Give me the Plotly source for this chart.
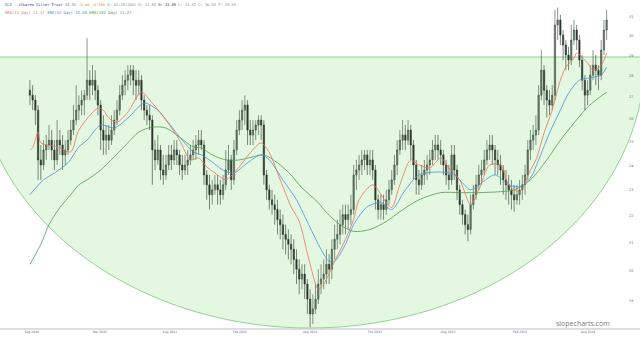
import numpy as np
import pandas as pd
import plotly.graph_objects as go

# ---------------- data (weekly candles) ----------------
opens = [27.32,27.09,26.86,26.40,24.23,24.02,24.65,24.86,25.07,24.65,
24.23,25.07,24.86,24.44,24.65,25.07,25.51,25.95,26.40,26.63,
26.86,27.09,27.80,27.56,27.80,27.32,26.63,25.51,25.07,25.29,
25.07,25.51,25.95,26.40,27.09,27.56,27.80,28.04,28.28,27.80,
27.56,27.80,26.86,26.40,26.17,25.95,24.65,24.23,24.65,23.81,
23.61,24.02,24.44,24.23,24.65,24.44,24.02,23.81,24.02,24.23,
24.44,24.65,24.86,25.07,24.86,23.61,23.21,22.82,23.01,23.21,
23.01,22.82,23.21,23.81,24.23,23.41,24.65,25.51,25.95,26.40,
26.63,25.51,25.29,25.51,25.73,25.95,25.73,23.61,23.01,22.62,
22.43,22.24,21.86,21.67,21.31,21.13,20.95,20.77,20.41,20.07,
19.73,19.90,19.56,19.06,18.58,18.74,19.06,19.56,19.73,19.90,
20.24,20.07,20.77,21.13,21.31,21.67,22.05,21.86,22.05,22.24,
23.61,23.81,24.02,24.23,24.44,24.02,24.23,23.81,22.62,22.24,
22.43,22.24,22.62,23.01,23.41,24.02,24.65,25.07,25.29,25.07,
25.51,24.86,24.02,23.41,23.21,23.61,23.81,24.02,24.23,24.65,
24.86,24.65,24.44,24.02,23.61,23.41,24.44,23.81,23.01,22.43,
22.05,21.67,21.49,22.43,22.82,23.21,23.61,23.81,24.23,24.65,
24.86,24.65,24.23,24.02,23.81,23.41,23.21,23.01,22.82,22.62,
22.82,23.01,23.21,23.61,24.65,25.07,25.29,25.51,27.09,28.28,
27.32,26.86,26.63,27.09,30.58,30.84,30.05,29.54,29.03,28.78,
29.79,30.31,29.79,28.78,27.80,27.09,27.32,28.04,28.53,28.28,
28.04,29.28,30.31]

highs = [27.80,27.56,27.09,26.63,24.86,25.07,25.29,25.73,25.51,25.07,
25.95,25.51,25.29,25.07,25.51,25.95,26.63,27.56,27.09,27.32,
27.32,29.89,28.28,28.53,28.28,27.56,26.86,26.17,25.73,25.73,
26.17,26.40,26.86,27.56,28.04,28.28,28.53,28.53,28.53,28.28,
28.28,28.04,27.09,26.63,26.63,26.17,25.07,25.29,24.86,24.44,
24.44,24.86,24.86,25.07,25.07,24.65,24.44,24.44,24.65,24.86,
25.07,25.29,25.51,25.51,25.07,23.81,23.61,23.41,23.61,23.61,
23.41,23.61,24.65,24.86,24.44,25.07,25.95,26.40,26.86,27.09,
26.86,25.95,25.95,25.95,26.17,26.17,25.95,23.81,23.21,23.01,
22.82,22.62,22.24,22.05,21.67,21.49,21.31,21.13,20.77,20.41,
20.24,20.24,19.73,19.39,19.22,19.56,20.07,20.24,20.41,20.77,
20.59,21.13,21.67,21.86,22.24,22.43,22.43,22.43,22.82,24.02,
24.23,24.44,24.65,24.65,24.65,24.65,24.65,24.02,22.82,22.82,
22.82,23.01,23.41,23.81,24.44,25.07,25.51,25.95,25.73,25.95,
25.73,25.07,24.23,23.81,24.02,24.23,24.44,24.65,25.07,25.29,
25.29,25.07,24.65,24.23,24.02,24.86,24.86,24.02,23.21,22.62,
22.24,22.05,22.82,23.21,23.61,24.02,24.23,24.65,25.07,25.29,
25.29,24.86,24.65,24.44,24.02,23.81,23.61,23.41,23.21,23.21,
23.41,23.61,24.02,25.07,25.51,25.73,26.17,27.56,29.28,28.53,
27.56,27.32,27.56,31.38,31.50,31.11,30.31,29.79,29.44,30.58,
30.84,30.58,30.05,29.03,28.04,27.80,28.53,29.28,29.03,28.53,
29.79,30.84,31.38]

lows = [26.63,26.40,25.73,23.41,23.41,23.81,24.23,24.65,24.23,23.81,
24.02,24.44,23.81,24.02,24.44,24.86,25.29,25.73,25.95,26.17,
26.17,26.86,26.86,27.09,26.86,26.17,24.65,24.44,24.44,24.65,
24.86,25.29,25.73,26.17,26.86,27.09,27.32,27.56,27.09,26.86,
27.09,26.40,25.95,25.73,25.51,23.21,23.81,24.02,23.41,23.21,
23.41,23.81,23.81,24.02,24.02,23.61,23.41,23.61,23.61,24.02,
24.23,24.23,24.44,24.65,23.21,22.62,22.24,22.43,22.82,22.43,
22.43,22.62,23.01,23.61,23.01,23.21,24.44,25.29,25.51,25.73,
24.86,24.86,24.86,25.07,25.29,25.07,23.21,22.62,22.24,22.05,
21.67,21.31,21.13,20.77,20.59,20.41,20.24,19.90,19.56,19.22,
19.39,19.06,18.58,18.16,18.26,18.58,18.90,19.22,19.39,19.56,
19.56,19.73,20.41,20.77,20.95,21.31,21.31,21.49,21.67,22.05,
23.01,23.41,23.61,23.81,23.61,23.61,23.41,22.24,21.86,21.86,
21.86,22.05,22.43,22.82,23.21,23.61,24.44,24.65,24.65,24.86,
24.23,23.41,22.82,22.82,23.01,23.21,23.41,23.61,24.02,24.23,
24.23,24.02,23.61,23.21,23.01,23.21,23.41,22.62,22.05,21.67,
21.31,21.06,21.31,22.24,22.62,23.01,23.21,23.61,24.02,24.23,
24.02,23.61,23.61,23.21,22.82,22.62,22.43,22.24,22.16,22.43,
22.43,22.62,22.82,23.41,24.23,24.65,24.86,25.29,26.86,26.63,
26.07,26.17,26.40,26.86,29.79,29.54,28.78,28.28,28.28,28.53,
29.54,29.28,28.43,27.32,26.40,26.63,27.09,27.80,27.56,27.32,
27.80,29.03,29.79]

closes = [27.09,26.86,26.40,24.23,24.02,24.65,24.86,25.07,24.65,24.23,
25.07,24.86,24.44,24.65,25.07,25.51,25.95,26.40,26.63,26.86,
27.09,27.80,27.56,27.80,27.32,26.63,25.51,25.07,25.29,25.07,
25.51,25.95,26.40,27.09,27.56,27.80,28.04,28.28,27.80,27.56,
27.80,26.86,26.40,26.17,25.95,24.65,24.23,24.65,23.81,23.61,
24.02,24.44,24.23,24.65,24.44,24.02,23.81,24.02,24.23,24.44,
24.65,24.86,25.07,24.86,23.61,23.21,22.82,23.01,23.21,23.01,
22.82,23.21,23.81,24.23,23.41,24.65,25.51,25.95,26.40,26.63,
25.51,25.29,25.51,25.73,25.95,25.73,23.61,23.01,22.62,22.43,
22.24,21.86,21.67,21.31,21.13,20.95,20.77,20.41,20.07,19.73,
19.90,19.56,19.06,18.58,18.74,19.06,19.56,19.73,19.90,20.24,
20.07,20.77,21.13,21.31,21.67,22.05,21.86,22.05,22.24,23.61,
23.81,24.02,24.23,24.44,24.02,24.23,23.81,22.62,22.24,22.43,
22.24,22.62,23.01,23.41,24.02,24.65,25.07,25.29,25.07,25.51,
24.86,24.02,23.41,23.21,23.61,23.81,24.02,24.23,24.65,24.86,
24.65,24.44,24.02,23.61,23.41,24.44,23.81,23.01,22.43,22.05,
21.67,21.49,22.43,22.82,23.21,23.61,23.81,24.23,24.65,24.86,
24.65,24.23,24.02,23.81,23.41,23.21,23.01,22.82,22.62,22.82,
23.01,23.21,23.61,24.65,25.07,25.29,25.51,27.09,28.28,27.32,
26.86,26.63,27.09,30.58,30.84,30.05,29.54,29.03,28.78,29.79,
30.31,29.79,28.78,27.80,27.09,27.32,28.04,28.53,28.28,28.04,
29.28,30.31,30.84]

# moving-average lines (week number, value)
ema15_idx = [0,1,3,4,10,15,18,25,27,29,32,36,41,45,50,55,59,62,65,69,72,76,81,85,88,92,96,99,103,106,108,112,116,119,121,126,131,133,136,140,143,147,151,154,158,162,165,169,173,176,180,184,186,189,192,195,197,200,201,205,207,210,212]
ema15_val = [24.65,24.74,25.42,24.95,24.78,24.57,25.51,26.49,26.40,26.04,25.86,26.31,27.23,26.72,25.95,25.07,24.23,24.31,23.94,23.61,23.41,23.81,24.53,24.95,24.53,23.41,22.35,21.79,20.24,19.39,19.56,20.34,21.13,21.86,22.62,23.21,22.51,22.32,23.21,24.23,24.02,23.90,24.31,23.90,23.41,22.43,23.01,24.02,24.02,23.21,22.94,23.81,24.23,25.38,26.40,27.80,28.43,28.88,29.13,28.63,28.28,28.53,29.13]
ema45_idx = [0,5,9,14,18,21,26,31,36,42,47,51,56,60,63,66,71,75,80,85,88,93,98,103,107,110,112,116,119,124,129,133,138,143,151,156,162,165,171,176,180,184,187,191,195,198,202,205,207,210,212]
ema45_val = [22.82,23.41,23.69,24.11,24.78,25.07,25.73,25.60,26.04,26.72,26.40,25.82,25.07,24.57,24.44,24.23,23.81,23.69,24.11,24.44,24.23,23.41,22.62,21.56,20.77,20.34,20.34,20.95,21.67,22.35,22.51,22.24,23.01,23.61,23.73,23.61,23.01,23.21,23.61,23.21,23.13,23.49,24.23,25.38,26.40,27.18,27.80,27.89,27.94,28.04,28.43]
ema135_idx = [0,4,7,11,15,18,21,26,31,36,40,45,50,55,60,63,67,72,77,82,86,91,96,100,106,109,114,119,125,131,136,143,151,158,165,173,178,184,190,195,200,205,208,212]
ema135_val = [20.24,20.95,21.67,22.32,22.82,23.21,23.41,23.81,24.36,24.95,25.42,25.64,25.60,25.20,24.78,24.74,24.44,24.23,24.23,24.36,24.44,24.11,23.61,23.09,22.51,22.13,21.67,21.42,21.49,21.79,22.16,22.62,22.90,22.90,22.90,22.94,23.01,23.41,24.23,25.07,25.82,26.54,26.86,27.23]

tick_dates = ["2020-09-05","2021-02-27","2021-08-26","2022-02-22","2022-08-22",
              "2023-02-05","2023-08-12","2024-02-13","2024-08-06"]
tick_text = ["Sep 2020","Mar 2021","Aug 2021","Feb 2022","Aug 2022",
             "Feb 2023","Aug 2023","Feb 2024","Aug 2024"]
price_ticks = [19,20,21,22,23,24,25,26,27,28,29,30,31]

header1 = ('<span style="color:#3636b0">SLV - iShares Silver Trust</span> '
           '<span style="color:#888888">45.92</span> '
           '<span style="color:#e8853a">-0.66 -0.76%</span> '
           '<span style="color:#888888">D: 01/25/2021 O: 13.84 </span>'
           '<span style="color:#333333">H: 33.89</span>'
           '<span style="color:#888888"> L: 13.47 C: 16.93 F: 29.04</span>')
header2 = ('<span style="color:#e8735a">EMA(15 Day) 11.47</span> '
           '<span style="color:#4a8fd6">EMA(45 Day) 22.60</span> '
           '<span style="color:#3c9a3c">EMA(135 Day) 11.27</span>')

# ---------------- figure ----------------
W, H = 640, 340
ML, MR, MT, MB = 0, 12, 0, 11
PW, PH = W - ML - MR, H - MT - MB

dates = pd.date_range("2020-08-31", periods=len(closes), freq="7D")

fig = go.Figure()

fig.add_trace(go.Candlestick(
    x=dates, open=opens, high=highs, low=lows, close=closes,
    increasing=dict(line=dict(color="#3a4f3c", width=0.6), fillcolor="#6a846a"),
    decreasing=dict(line=dict(color="#2c382d", width=0.6), fillcolor="#2c382d"),
    whiskerwidth=0, hoverinfo="skip"))

for idx, vals, col in [(ema135_idx, ema135_val, "#4a9e4a"),
                       (ema45_idx, ema45_val, "#4a8fd6"),
                       (ema15_idx, ema15_val, "#e8735a")]:
    fig.add_trace(go.Scatter(x=dates[idx], y=vals, mode="lines",
                             line=dict(color=col, width=0.8, shape="spline", smoothing=0.8),
                             hoverinfo="skip"))

# half-ellipse "cup" drawn in pixel space, converted to paper coords
cx, cy, a, b = 310, 57, 335, 271
t = np.linspace(np.pi, 0, 120)
px = cx + a * np.cos(t)
py = cy + b * np.sin(t)
pts = [f"{x / PW:.5f},{1 - y / PH:.5f}" for x, y in zip(px, py)]
path = "M " + " L ".join(pts) + " Z"

shapes = [
    dict(type="path", xref="paper", yref="paper", path=path,
         fillcolor="#e4f7e1", line=dict(color="#92d292", width=1), layer="below"),
    dict(type="line", xref="paper", yref="paper", x0=0, x1=W / PW, y0=0, y1=0,
         line=dict(color="#bdbdbd", width=1)),
]

annotations = [
    dict(text=header1, xref="paper", yref="paper", x=3 / PW, y=1 - 5 / PH,
         xanchor="left", yanchor="middle", showarrow=False,
         font=dict(family="DejaVu Sans Mono", size=3.7, color="#888888")),
    dict(text=header2, xref="paper", yref="paper", x=3 / PW, y=1 - 12 / PH,
         xanchor="left", yanchor="middle", showarrow=False,
         font=dict(family="DejaVu Sans Mono", size=3.9, color="#888888")),
    dict(text="slopecharts.com", xref="paper", yref="paper", x=583 / PW, y=1 - 323 / PH,
         xanchor="center", yanchor="middle", showarrow=False,
         font=dict(family="Open Sans", size=7, color="#7a7a7a")),
]

fig.update_layout(
    width=W, height=H, margin=dict(l=ML, r=MR, t=MT, b=MB),
    paper_bgcolor="white", plot_bgcolor="rgba(0,0,0,0)", showlegend=False,
    shapes=shapes, annotations=annotations,
    xaxis=dict(type="date", range=["2020-06-15", "2024-11-17"],
               rangeslider=dict(visible=False), showgrid=False, zeroline=False,
               showline=False, ticks="", tickvals=tick_dates, ticktext=tick_text,
               tickfont=dict(family="DejaVu Sans", size=3, color="#5a6a8a")),
    yaxis=dict(type="log", range=[np.log10(18.103), np.log10(31.92)], side="right",
               showgrid=False, zeroline=False, showline=False, ticks="",
               tickvals=price_ticks, ticktext=[str(v) for v in price_ticks],
               tickfont=dict(family="DejaVu Sans", size=3.5, color="#666666")),
)

fig.write_html("out.html")
